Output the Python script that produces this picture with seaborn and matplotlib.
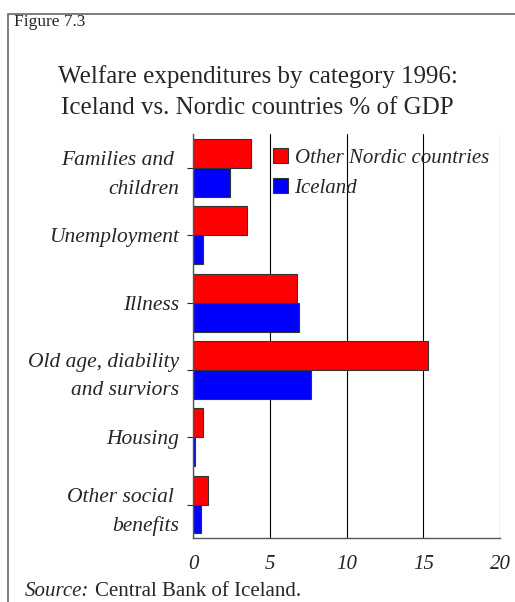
import matplotlib
matplotlib.use("Agg")
import matplotlib.pyplot as plt
import pandas as pd
import seaborn as sns
from matplotlib.patches import Rectangle

categories = [
    "Families and \nchildren",
    "Unemployment",
    "Illness",
    "Old age, diability\nand surviors",
    "Housing",
    "Other social \nbenefits",
]
nordic = [3.8, 3.5, 6.8, 15.3, 0.65, 1.0]
iceland = [2.4, 0.65, 6.9, 7.7, 0.15, 0.5]
series = ["Other Nordic countries", "Iceland"]
colors = ["#ff0000", "#0000ff"]
xticks = [0, 5, 10, 15, 20]

df = pd.DataFrame({
    "category": categories * 2,
    "value": nordic + iceland,
    "series": [series[0]] * len(categories) + [series[1]] * len(categories),
})

sns.set_style("white")
plt.rcParams["font.family"] = ["Liberation Serif", "DejaVu Serif"]

fig = plt.figure(figsize=(5.15, 6.02), dpi=100)
ax = fig.add_axes([0.375, 0.106, 0.596, 0.671])

sns.barplot(
    data=df, y="category", x="value", hue="series", orient="h",
    palette=colors, order=categories, hue_order=series, saturation=1,
    width=0.86, edgecolor="#333333", linewidth=0.8, ax=ax,
)

ax.set_xlim(0, 20)
ax.set_xticks(xticks)
ax.set_xticklabels([str(t) for t in xticks], fontsize=15, style="italic")
ax.set_yticks(range(len(categories)))
ax.set_yticklabels(categories, fontsize=15.5, style="italic", ha="right", linespacing=1.65)
ax.tick_params(axis="y", length=4, width=0.8, pad=6, left=True)
ax.tick_params(axis="x", length=0, pad=12)
ax.set_xlabel("")
ax.set_ylabel("")
ax.xaxis.grid(True, color="black", linewidth=0.8)
ax.set_axisbelow(True)
ax.spines["top"].set_visible(False)
ax.spines["right"].set_visible(False)
for side in ["left", "bottom"]:
    ax.spines[side].set_color("#555555")
    ax.spines[side].set_linewidth(1.0)

ax.legend(
    loc="upper left", bbox_to_anchor=(0.215, 1.0), frameon=False,
    prop={"style": "italic", "size": 15}, handlelength=0.75, handleheight=0.75,
    handletextpad=0.3, labelspacing=0.5, borderaxespad=0.25,
)

fig.patches.append(Rectangle((8 / 515, -0.1), 1.2, 1.1 - 14 / 602, transform=fig.transFigure,
                             fill=False, edgecolor="#666666", linewidth=1.2))
fig.text(14 / 515, 1 - 22 / 602, "Figure 7.3", fontsize=12.5, va="center")
fig.text(0.5, 1 - 92 / 602, "Welfare expenditures by category 1996:\nIceland vs. Nordic countries % of GDP",
         fontsize=18, ha="center", va="center", linespacing=1.5)
fig.text(25 / 515, 1 - 591 / 602, "Source:", fontsize=15, style="italic", va="center")
fig.text(95 / 515, 1 - 591 / 602, "Central Bank of Iceland.", fontsize=15, va="center")

fig.savefig("out.png", dpi=100)
